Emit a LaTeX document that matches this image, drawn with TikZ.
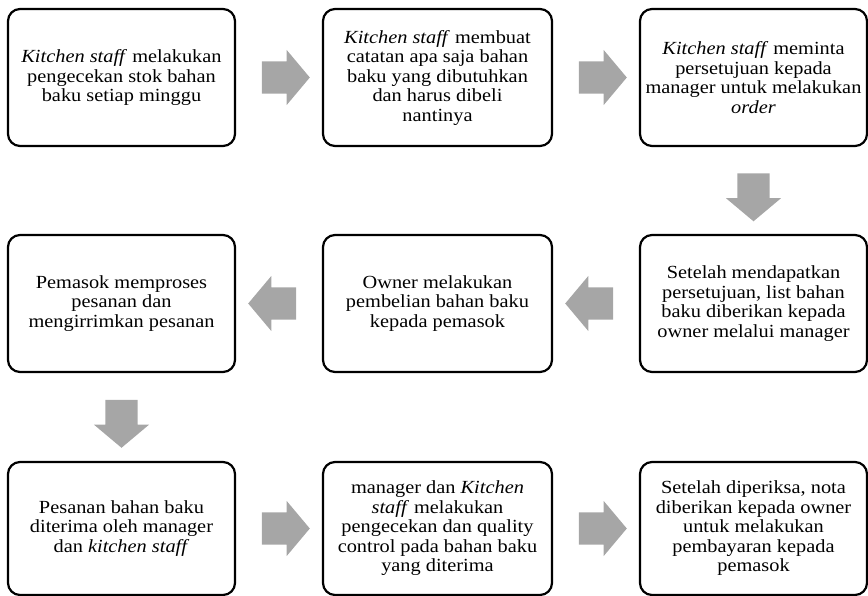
\documentclass[tikz,border=0pt]{standalone}
\usepackage{fontspec}
\setmainfont{Liberation Serif}[FakeStretch=1.1]
\usetikzlibrary{shapes.arrows,calc}
\definecolor{arrowgray}{RGB}{166,166,166}
\tikzset{
  stepbox/.style={draw, line width=2.2pt, rounded corners=12pt,
    minimum width=227pt, minimum height=137pt, inner sep=0pt, align=center,
    font=\fontsize{18.5}{19.5}\selectfont},
  blockarrow/.style={single arrow, fill=arrowgray, draw=none,
    inner xsep=0pt, inner ysep=16pt, text height=0pt, text depth=0pt,
    minimum height=48pt, single arrow head extend=11.5pt,
    single arrow tip angle=100}
}
\begin{document}
\begin{tikzpicture}[x=1pt,y=-1pt]
      \useasboundingbox (0,0) rectangle (868,596);
      \path
        (121.5,77.5) node[stepbox] (1){\textit{Kitchen staff} melakukan\\pengecekan stok bahan\\baku setiap minggu}
        (437.5,77.5) node[stepbox, minimum width=229pt] (2){\textit{Kitchen staff} membuat\\catatan apa saja bahan\\baku yang dibutuhkan\\dan harus dibeli\\nantinya}
        (753.5,77.5) node[stepbox] (3){\textit{Kitchen staff} meminta\\persetujuan kepada\\manager untuk melakukan\\\textit{order}}
        (753.5,303.5) node[stepbox] (4){Setelah mendapatkan\\persetujuan, list bahan\\baku diberikan kepada\\owner melalui manager}
        (437.5,303.5) node[stepbox, minimum width=229pt] (5){Owner melakukan\\pembelian bahan baku\\kepada pemasok}
        (121.5,303.5) node[stepbox] (6){Pemasok memproses\\pesanan dan\\mengirrimkan pesanan}
        (121.5,528.5) node[stepbox, minimum height=133pt] (7){Pesanan bahan baku\\diterima oleh manager\\dan \textit{kitchen staff}}
        (437.5,528.5) node[stepbox, minimum height=133pt, minimum width=229pt] (8){manager dan \textit{Kitchen}\\\textit{staff} melakukan\\pengecekan dan quality\\control pada bahan baku\\yang diterima}
        (753.5,528.5) node[stepbox, minimum height=133pt] (9){Setelah diperiksa, nota\\diberikan kepada owner\\untuk melakukan\\pembayaran kepada\\pemasok};
      \begin{scope}[every node/.style=blockarrow]
        \node (12) at ($(1.east)!0.5!(2.west)$) {};
        \node (23) at ($(2.east)!0.5!(3.west)$) {};
        \node[rotate=-90] (34) at ($(3.south)!0.5!(4.north)$) {};
        \node[rotate=180] (45) at ($(4.west)!0.5!(5.east)$) {};
        \node[rotate=180] (56) at ($(5.west)!0.5!(6.east)$) {};
        \node[rotate=-90] (67) at ($(6.south)!0.5!(7.north)$) {};
        \node (78) at ($(7.east)!0.5!(8.west)$) {};
        \node (89) at ($(8.east)!0.5!(9.west)$) {};
      \end{scope}
    \end{tikzpicture}
\end{document}
